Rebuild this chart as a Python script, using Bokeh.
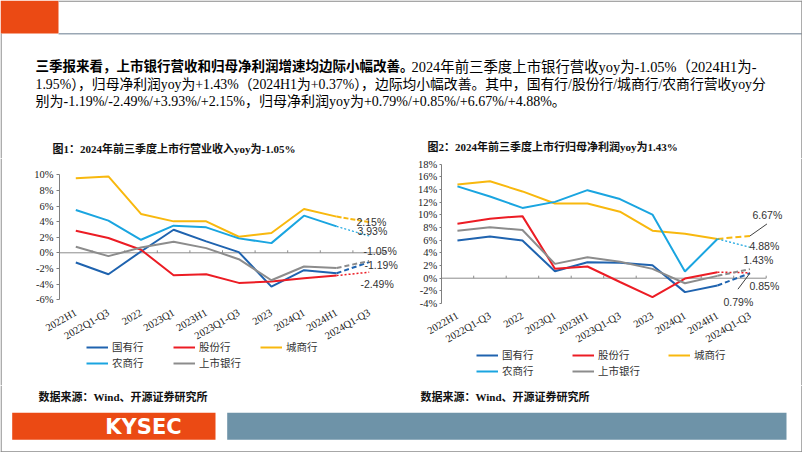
import math
from bokeh.plotting import figure
from bokeh.models import (Range1d, Label, Legend, LegendItem,
                          FixedTicker, PrintfTickFormatter, BoxAnnotation)
from bokeh.layouts import column, row
from bokeh.embed import file_html
from bokeh.resources import INLINE

# ---------------- data ----------------
categories = ["2022H1", "2022Q1-Q3", "2022", "2023Q1", "2023H1",
              "2023Q1-Q3", "2023", "2024Q1", "2024H1", "2024Q1-Q3"]
series_names = ["国有行", "股份行", "城商行", "农商行", "上市银行"]

# 营业收入 yoy (%)
rev_state = [-1.24, -2.75, 0.17, 2.96, 1.46, 0.09, -4.33, -2.23, -2.62, -1.19]
rev_joint = [2.83, 1.89, 0.39, -2.88, -2.75, -3.86, -3.69, -3.26, -2.92, -2.49]
rev_city = [9.57, 9.79, 4.98, 4.03, 4.03, 2.06, 2.53, 5.62, 4.64, 3.93]
rev_rural = [5.49, 4.12, 1.67, 3.48, 3.26, 1.85, 1.24, 4.76, 3.39, 2.15]
rev_all = [0.77, -0.43, 0.69, 1.42, 0.60, -0.82, -3.52, -1.76, -1.95, -1.05]

# 归母净利润 yoy (%)
np_state = [5.95, 6.58, 5.95, 1.10, 2.53, 2.42, 2.05, -2.20, -1.15, 0.79]
np_joint = [8.60, 9.40, 9.80, 1.50, 1.85, -0.60, -3.00, -0.05, 0.95, 0.85]
np_city = [14.80, 15.30, 13.70, 11.80, 11.80, 10.50, 7.50, 7.00, 6.20, 6.67]
np_rural = [14.50, 12.90, 11.10, 12.05, 13.90, 12.50, 10.05, 1.05, 6.20, 4.88]
np_all = [7.50, 8.05, 7.60, 2.26, 3.30, 2.60, 1.47, -0.80, 0.37, 1.43]

rev_ticks = list(range(-6, 11, 2))
np_ticks = list(range(-4, 19, 2))

para_bold = "三季报来看，上市银行营收和归母净利润增速均边际小幅改善。"
para_l1 = "2024年前三季度上市银行营收yoy为-1.05%（2024H1为-"
para_l2 = "1.95%），归母净利润yoy为+1.43%（2024H1为+0.37%），边际均小幅改善。其中，国有行/股份行/城商行/农商行营收yoy分"
para_l3 = "别为-1.19%/-2.49%/+3.93%/+2.15%，归母净利润yoy为+0.79%/+0.85%/+6.67%/+4.88%。"
title1 = "图1：2024年前三季度上市行营业收入yoy为-1.05%"
title2 = "图2：2024年前三季度上市行归母净利润yoy为1.43%"
source_text = "数据来源：Wind、开源证券研究所"

# ---------------- styles ----------------
colors = ["#1F63AF", "#EC1C24", "#F8B80E", "#1AA5E0", "#8C8C8C"]
ORANGE = "#EB4A14"
SLATE = "#6E93A8"
BORDER = "#8A8A8A"
SERIF = "Liberation Serif"
CJK = "Noto Sans CJK SC"
MIX = "Liberation Serif, Noto Sans CJK SC"
SANS = "Liberation Sans"

PAGE_W = 802
PAGE_H = 452
ROW_TOP = 158      # page y of the chart row
ROW_H = 227


def fmt(v):
    return f"{v:.2f}%"


def vborder(p, left, right):
    p.add_layout(BoxAnnotation(left=left, right=right, left_units="screen",
                               right_units="screen", fill_color=BORDER, fill_alpha=1,
                               line_color=None))


def make_chart(fig_left, width, ax_left, cat_px, ticks, top_page, ppu,
               series, dashes, dash_w, end_labels, leaders,
               leg_left, leg_bottom, leg_label_w, tick_out, standoff, x_standoff):
    """Positions are given in page pixels; converted to the figure frame."""
    n = len(categories)
    fig_top = ROW_TOP
    fig_bottom = ROW_TOP + ROW_H
    y_hi = ticks[-1] + (top_page - fig_top) / ppu
    y_lo = ticks[-1] - (fig_bottom - top_page) / ppu
    x_lo = -0.5 - (ax_left - fig_left) / cat_px
    x_hi = -0.5 + (fig_left + width - ax_left) / cat_px

    p = figure(width=width, height=ROW_H,
               x_range=Range1d(x_lo, x_hi), y_range=Range1d(y_lo, y_hi),
               output_backend="svg", toolbar_location=None, min_border=0)
    p.xgrid.grid_line_color = None
    p.ygrid.grid_line_color = None
    p.outline_line_color = None
    p.background_fill_color = "white"
    p.border_fill_color = "white"

    xa = p.xaxis[0]
    xa.fixed_location = ticks[0]
    xa.ticker = FixedTicker(ticks=list(range(n)))
    xa.major_label_overrides = {i: c for i, c in enumerate(categories)}
    xa.axis_line_color = None
    xa.major_tick_line_color = None
    xa.minor_tick_line_color = None
    xa.major_label_orientation = math.pi / 6
    xa.major_label_text_font = SERIF
    xa.major_label_text_font_size = "10.5px"
    xa.major_label_text_color = "#222222"
    xa.major_label_standoff = x_standoff

    ya = p.yaxis[0]
    ya.fixed_location = -0.5
    ya.ticker = FixedTicker(ticks=ticks)
    ya.formatter = PrintfTickFormatter(format="%d%%")
    ya.bounds = (ticks[0], ticks[-1])
    ya.axis_line_color = "#7F7F7F"
    ya.major_tick_line_color = "#7F7F7F"
    ya.major_tick_in = 0
    ya.major_tick_out = tick_out
    ya.minor_tick_line_color = None
    ya.major_label_text_font = SERIF
    ya.major_label_text_font_size = "10.5px"
    ya.major_label_text_color = "#222222"
    ya.major_label_standoff = standoff

    # category axis line at 0 with boundary ticks
    p.segment(x0=[-0.5], y0=[0], x1=[n - 0.5], y1=[0], line_color="#8C8C8C", line_width=1)
    bounds = [k - 0.5 for k in range(1, n + 1)]
    p.segment(x0=bounds, y0=[0] * n, x1=bounds, y1=[2.5 / ppu] * n,
              line_color="#8C8C8C", line_width=1)

    xs = list(range(n))
    items = []
    for name, vals, c, d, dw in zip(series_names, series, colors, dashes, dash_w):
        r = p.line(xs[:-1], vals[:-1], line_color=c, line_width=2)
        p.line(xs[-2:], vals[-2:], line_color=c, line_width=dw, line_dash=d)
        items.append(LegendItem(label=name, renderers=[r]))

    legend = Legend(items=items, location=(leg_left - fig_left, fig_bottom - leg_bottom),
                    orientation="horizontal", ncols=3,
                    glyph_width=22, glyph_height=10, label_standoff=4,
                    label_width=leg_label_w, label_height=12, spacing=1,
                    padding=0, margin=0, border_line_color=None,
                    background_fill_alpha=0, label_text_font=CJK,
                    label_text_font_size="10.5px", label_text_color="#333333")
    p.add_layout(legend)

    for v, dx, dy in leaders:
        p.segment(x0=[n - 1], y0=[v], x1=[n - 1 + dx / cat_px],
                  y1=[v + dy / ppu], line_color="#404040", line_width=1)

    for txt, px, py in end_labels:
        p.add_layout(Label(x=px - fig_left, y=fig_bottom - py, x_units="screen",
                           y_units="screen", text=txt, text_font=SANS,
                           text_font_size="10.5px", text_color="#333333",
                           text_baseline="middle"))
    return p


rev_series = [rev_state, rev_joint, rev_city, rev_rural, rev_all]
np_series = [np_state, np_joint, np_city, np_rural, np_all]

p1 = make_chart(
    0, 401, 59, 32.6, rev_ticks, 174.3, 7.8, rev_series,
    ["5 3", "2 2", "5 2", "2 2", "5 3"], [2, 1.5, 2, 1.2, 2],
    [(fmt(rev_rural[-1]), 356, 221), (fmt(rev_city[-1]), 357, 230),
     (fmt(rev_all[-1]), 363, 250), (fmt(rev_state[-1]), 364, 264),
     (fmt(rev_joint[-1]), 360, 283)],
    [], 86, 370, 60, 3, 3, 6)
vborder(p1, 0, 1.2)

p2 = make_chart(
    401, 401, 440.7, 32.5, np_ticks, 163.7, 6.333, np_series,
    ["5 3", "2 2", "6 3", "2 2", "5 3"], [2, 1.5, 2, 1.2, 2],
    [(fmt(np_city[-1]), 752, 214), (fmt(np_rural[-1]), 749, 245),
     (fmt(np_all[-1]), 743, 259), (fmt(np_joint[-1]), 749, 285),
     (fmt(np_state[-1]), 723, 301)],
    [(np_city[-1], 17, 12), (np_state[-1], -12, -16)],
    476, 378, 69, 2, 2, 5)
vborder(p2, 399.8, 401)


def blank(h):
    f = figure(width=PAGE_W, height=h, x_range=Range1d(0, PAGE_W), y_range=Range1d(h, 0),
               x_axis_location=None, y_axis_location=None, toolbar_location=None,
               output_backend="svg", min_border=0)
    f.outline_line_color = None
    f.grid.visible = False
    f.background_fill_color = "white"
    f.border_fill_color = "white"
    return f


def box(f, l, r, t, b, color):
    f.add_layout(BoxAnnotation(left=l, right=r, top=t, bottom=b, fill_color=color,
                               fill_alpha=1, line_color=None))


hdr = blank(ROW_TOP)
box(hdr, 0, 58, 0, 33, ORANGE)
box(hdr, 58, PAGE_W, 32.5, 34, "#9AA7B4")
box(hdr, 58, PAGE_W, 0, 1.2, BORDER)
box(hdr, 0, 1.2, 33, ROW_TOP, BORDER)
box(hdr, PAGE_W - 1.2, PAGE_W, 0, ROW_TOP, BORDER)
hdr.add_layout(Label(x=35, y=66, text=para_bold, text_font=MIX, text_font_size="13.5px",
                     text_font_style="bold", text_color="#000000", text_baseline="middle"))
hdr.add_layout(Label(x=411, y=66, text=para_l1, text_font=MIX, text_font_size="14.4px",
                     text_color="#000000", text_baseline="middle"))
hdr.add_layout(Label(x=35, y=83.5, text=para_l2, text_font=MIX, text_font_size="13.8px",
                     text_color="#000000", text_baseline="middle"))
hdr.add_layout(Label(x=35, y=101, text=para_l3, text_font=MIX, text_font_size="14px",
                     text_color="#000000", text_baseline="middle"))
for tx, ty, tt in ((52, 148, title1), (427, 146, title2)):
    hdr.add_layout(Label(x=tx, y=ty, text=tt, text_font=MIX, text_font_size="11px",
                         text_font_style="bold", text_color="#111111",
                         text_baseline="middle"))

FTR_H = PAGE_H - ROW_TOP - ROW_H
ftr = blank(FTR_H)
for sx in (38, 420):
    ftr.add_layout(Label(x=sx, y=11, text=source_text, text_font=MIX, text_font_size="11px",
                         text_font_style="bold", text_color="#111111", text_baseline="middle"))
box(ftr, 11.7, 215, 27.3, 54.3, ORANGE)
box(ftr, 226.7, 786, 27.3, 54.3, SLATE)
box(ftr, 0, 1.2, 0, FTR_H, BORDER)
box(ftr, PAGE_W - 1.2, PAGE_W, 0, FTR_H, BORDER)
box(ftr, 0, PAGE_W, FTR_H - 1.2, FTR_H, BORDER)
ftr.add_layout(Label(x=143, y=41.5, text="KYSEC", text_font="DejaVu Sans", text_font_size="21px",
                     text_font_style="bold", text_color="white", text_align="center",
                     text_baseline="middle"))

layout = column(hdr, row(p1, p2), ftr)
open("out.html", "w").write(file_html(layout, INLINE))
